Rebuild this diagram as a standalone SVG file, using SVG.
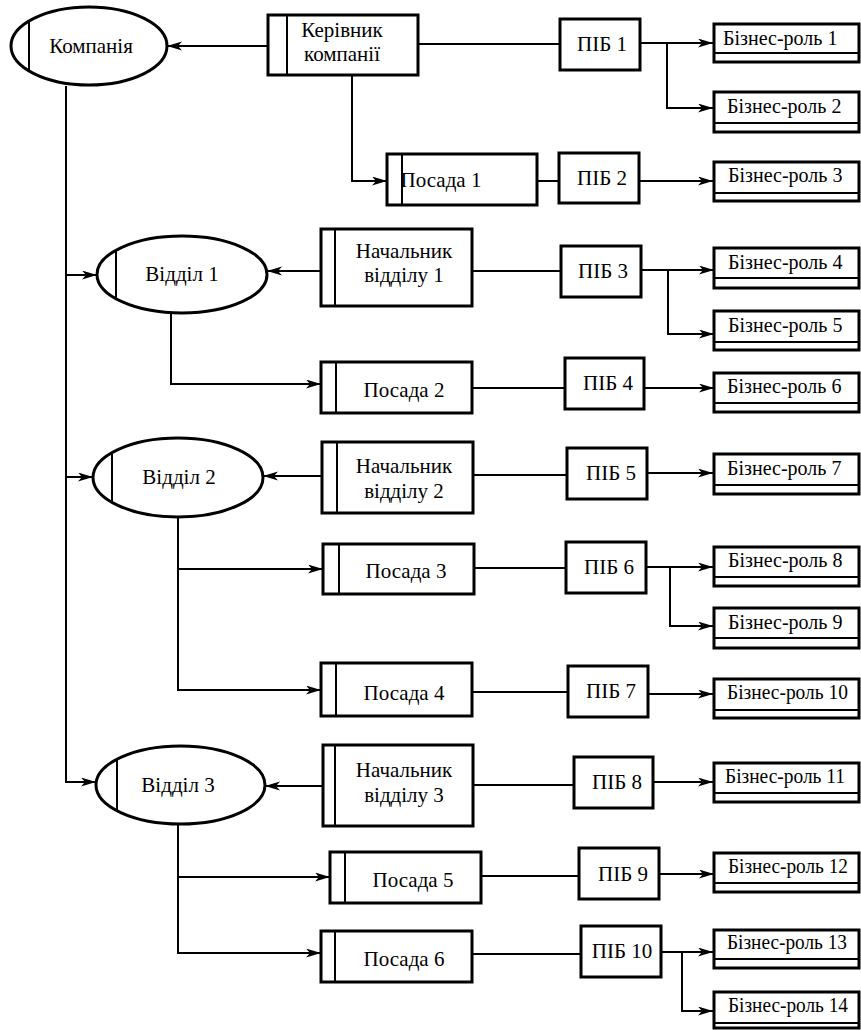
<svg xmlns="http://www.w3.org/2000/svg" width="861" height="1030" viewBox="0 0 861 1030">
  <style>
    .box { fill: #fff; stroke: #000; stroke-width: 3; }
    .sep { stroke: #000; stroke-width: 2; fill: none; }
    text { font-family: 'Liberation Serif', 'Times New Roman', serif; fill: #000; }
    .t { font-size: 21px; }
    .c { text-anchor: middle; }
    .br { font-size: 20px; }
    .link { fill: none; stroke: #000; stroke-width: 2; }
    .arr { marker-end: url(#head); }
  </style>
  <defs>
    <marker id="head" markerUnits="userSpaceOnUse" markerWidth="16" markerHeight="10" refX="15" refY="4.5" orient="auto">
      <path d="M0,0 L15,4.5 L0,9 L4,4.5 Z" fill="#000"/>
    </marker>
  </defs>
  <rect width="861" height="1030" fill="#fff"/>

  <!-- connectors -->
  <g id="connectors">
    <path class="link arr" d="M268,46 H167"/>
    <path class="link" d="M418,44 H560"/>
    <path class="link arr" d="M640,43 H713"/>
    <path class="link arr" d="M667,43 V108 H713"/>
    <path class="link arr" d="M352,75 V181 H387"/>
    <path class="link" d="M537,181 H559"/>
    <path class="link arr" d="M639,181 H713"/>

    <path class="link arr" d="M66,86 V782 H96"/>
    <path class="link arr" d="M66,275 H97"/>
    <path class="link arr" d="M66,477 H93"/>

    <path class="link arr" d="M321,271 H267"/>
    <path class="link" d="M472,271 H561"/>
    <path class="link arr" d="M641,270 H714"/>
    <path class="link arr" d="M668,270 V334 H714"/>
    <path class="link arr" d="M171,313 V384 H321"/>
    <path class="link" d="M472,388 H565"/>
    <path class="link arr" d="M644,388 H714"/>

    <path class="link arr" d="M322,476 H263"/>
    <path class="link" d="M473,475 H567"/>
    <path class="link arr" d="M647,473 H713"/>
    <path class="link arr" d="M178,517 V690 H321"/>
    <path class="link arr" d="M178,569 H323"/>
    <path class="link" d="M474,568 H566"/>
    <path class="link arr" d="M646,567 H713"/>
    <path class="link arr" d="M670,567 V626 H713"/>
    <path class="link" d="M472,692 H568"/>
    <path class="link arr" d="M648,694 H713"/>

    <path class="link arr" d="M323,786 H265"/>
    <path class="link" d="M473,785 H574"/>
    <path class="link arr" d="M653,782 H713"/>
    <path class="link arr" d="M178,824 V953 H321"/>
    <path class="link arr" d="M178,877 H330"/>
    <path class="link" d="M481,876 H579"/>
    <path class="link arr" d="M659,874 H714"/>
    <path class="link" d="M472,954 H581"/>
    <path class="link arr" d="M661,952 H713"/>
    <path class="link arr" d="M682,952 V1011 H713"/>
  </g>

  <!-- organisational units -->
  <g id="company">
    <ellipse class="box" cx="89" cy="46" rx="78" ry="39"/>
    <line class="sep" x1="29" y1="21" x2="29" y2="71"/>
    <text class="t c" x="91" y="53">Компанія</text>
  </g>
  <g id="dept1">
    <ellipse class="box" cx="182" cy="274.5" rx="85" ry="38.5"/>
    <line class="sep" x1="116" y1="250" x2="116" y2="299"/>
    <text class="t c" x="182" y="281">Відділ 1</text>
  </g>
  <g id="dept2">
    <ellipse class="box" cx="178" cy="477.5" rx="85" ry="39.5"/>
    <line class="sep" x1="112" y1="453" x2="112" y2="502"/>
    <text class="t c" x="179" y="484">Відділ 2</text>
  </g>
  <g id="dept3">
    <ellipse class="box" cx="180.5" cy="785" rx="84.5" ry="39"/>
    <line class="sep" x1="117" y1="759" x2="117" y2="811"/>
    <text class="t c" x="178" y="792">Відділ 3</text>
  </g>

  <!-- positions -->
  <g id="ceo">
    <rect class="box" x="268" y="15" width="150" height="60"/>
    <line class="sep" x1="287" y1="15" x2="287" y2="75"/>
    <text class="t c" x="342" y="37">Керівник</text>
    <text class="t c" x="342" y="61">компанії</text>
  </g>
  <g id="pos1">
    <rect class="box" x="387" y="154" width="150" height="51"/>
    <line class="sep" x1="402" y1="154" x2="402" y2="205"/>
    <text class="t c" x="441" y="187">Посада 1</text>
  </g>
  <g id="head1">
    <rect class="box" x="321" y="229" width="151" height="77"/>
    <line class="sep" x1="335" y1="229" x2="335" y2="306"/>
    <text class="t c" x="404" y="258">Начальник</text>
    <text class="t c" x="404" y="282">відділу 1</text>
  </g>
  <g id="pos2">
    <rect class="box" x="321" y="362" width="151" height="51"/>
    <line class="sep" x1="336" y1="362" x2="336" y2="413"/>
    <text class="t c" x="404" y="397">Посада 2</text>
  </g>
  <g id="head2">
    <rect class="box" x="322" y="442" width="151" height="71"/>
    <line class="sep" x1="337" y1="442" x2="337" y2="513"/>
    <text class="t c" x="404" y="473">Начальник</text>
    <text class="t c" x="404" y="498">відділу 2</text>
  </g>
  <g id="pos3">
    <rect class="box" x="323" y="544" width="151" height="50"/>
    <line class="sep" x1="339" y1="544" x2="339" y2="594"/>
    <text class="t c" x="406" y="578">Посада 3</text>
  </g>
  <g id="pos4">
    <rect class="box" x="321" y="663" width="151" height="53"/>
    <line class="sep" x1="336" y1="663" x2="336" y2="716"/>
    <text class="t c" x="404" y="700">Посада 4</text>
  </g>
  <g id="head3">
    <rect class="box" x="323" y="745" width="150" height="81"/>
    <line class="sep" x1="335" y1="745" x2="335" y2="826"/>
    <text class="t c" x="404" y="777">Начальник</text>
    <text class="t c" x="404" y="802">відділу 3</text>
  </g>
  <g id="pos5">
    <rect class="box" x="330" y="852" width="151" height="51"/>
    <line class="sep" x1="345" y1="852" x2="345" y2="903"/>
    <text class="t c" x="413" y="887">Посада 5</text>
  </g>
  <g id="pos6">
    <rect class="box" x="321" y="931" width="151" height="51"/>
    <line class="sep" x1="335" y1="931" x2="335" y2="982"/>
    <text class="t c" x="404" y="966">Посада 6</text>
  </g>

  <!-- employees -->
  <g id="pib1"><rect class="box" x="560" y="19" width="80" height="51"/><text class="t c" x="602" y="51">ПІБ 1</text></g>
  <g id="pib2"><rect class="box" x="559" y="153" width="80" height="50"/><text class="t c" x="602" y="185">ПІБ 2</text></g>
  <g id="pib3"><rect class="box" x="561" y="246" width="80" height="51"/><text class="t c" x="603" y="278">ПІБ 3</text></g>
  <g id="pib4"><rect class="box" x="565" y="358" width="79" height="51"/><text class="t c" x="608" y="390">ПІБ 4</text></g>
  <g id="pib5"><rect class="box" x="567" y="448" width="80" height="51"/><text class="t c" x="611" y="480">ПІБ 5</text></g>
  <g id="pib6"><rect class="box" x="566" y="542" width="80" height="51"/><text class="t c" x="609" y="574">ПІБ 6</text></g>
  <g id="pib7"><rect class="box" x="568" y="666" width="80" height="51"/><text class="t c" x="611" y="698">ПІБ 7</text></g>
  <g id="pib8"><rect class="box" x="574" y="757" width="79" height="51"/><text class="t c" x="617" y="789">ПІБ 8</text></g>
  <g id="pib9"><rect class="box" x="579" y="848" width="80" height="51"/><text class="t c" x="623" y="881">ПІБ 9</text></g>
  <g id="pib10"><rect class="box" x="581" y="926" width="80" height="51"/><text class="t c" x="622" y="958">ПІБ 10</text></g>

  <!-- business roles -->
  <g id="role1"><rect class="box" x="714" y="24" width="145" height="38"/><line class="sep" x1="714" y1="53" x2="859" y2="53"/><text class="br" x="723" y="45">Бізнес-роль 1</text></g>
  <g id="role2"><rect class="box" x="714" y="92" width="145" height="40"/><line class="sep" x1="714" y1="123" x2="859" y2="123"/><text class="br" x="727" y="113">Бізнес-роль 2</text></g>
  <g id="role3"><rect class="box" x="714" y="162" width="145" height="39"/><line class="sep" x1="714" y1="193" x2="859" y2="193"/><text class="br" x="728" y="182">Бізнес-роль 3</text></g>
  <g id="role4"><rect class="box" x="714" y="248" width="145" height="40"/><line class="sep" x1="714" y1="278" x2="859" y2="278"/><text class="br" x="728" y="269">Бізнес-роль 4</text></g>
  <g id="role5"><rect class="box" x="714" y="311" width="145" height="39"/><line class="sep" x1="714" y1="342" x2="859" y2="342"/><text class="br" x="728" y="332">Бізнес-роль 5</text></g>
  <g id="role6"><rect class="box" x="714" y="373" width="145" height="39"/><line class="sep" x1="714" y1="403" x2="859" y2="403"/><text class="br" x="727" y="393">Бізнес-роль 6</text></g>
  <g id="role7"><rect class="box" x="714" y="454" width="145" height="40"/><line class="sep" x1="714" y1="485" x2="859" y2="485"/><text class="br" x="727" y="475">Бізнес-роль 7</text></g>
  <g id="role8"><rect class="box" x="714" y="547" width="145" height="39"/><line class="sep" x1="714" y1="577" x2="859" y2="577"/><text class="br" x="728" y="567">Бізнес-роль 8</text></g>
  <g id="role9"><rect class="box" x="714" y="608" width="145" height="40"/><line class="sep" x1="714" y1="638" x2="859" y2="638"/><text class="br" x="728" y="629">Бізнес-роль 9</text></g>
  <g id="role10"><rect class="box" x="714" y="679" width="145" height="39"/><line class="sep" x1="714" y1="710" x2="859" y2="710"/><text class="br" x="727" y="699" textLength="121" lengthAdjust="spacingAndGlyphs">Бізнес-роль 10</text></g>
  <g id="role11"><rect class="box" x="714" y="763" width="145" height="39"/><line class="sep" x1="714" y1="793" x2="859" y2="793"/><text class="br" x="725" y="783" textLength="120" lengthAdjust="spacingAndGlyphs">Бізнес-роль 11</text></g>
  <g id="role12"><rect class="box" x="714" y="853" width="145" height="39"/><line class="sep" x1="714" y1="883" x2="859" y2="883"/><text class="br" x="728" y="873" textLength="120" lengthAdjust="spacingAndGlyphs">Бізнес-роль 12</text></g>
  <g id="role13"><rect class="box" x="714" y="930" width="145" height="38"/><line class="sep" x1="714" y1="959" x2="859" y2="959"/><text class="br" x="727" y="949" textLength="120" lengthAdjust="spacingAndGlyphs">Бізнес-роль 13</text></g>
  <g id="role14"><rect class="box" x="714" y="992" width="145" height="36"/><line class="sep" x1="714" y1="1023" x2="859" y2="1023"/><text class="br" x="728" y="1012" textLength="120" lengthAdjust="spacingAndGlyphs">Бізнес-роль 14</text></g>
</svg>
